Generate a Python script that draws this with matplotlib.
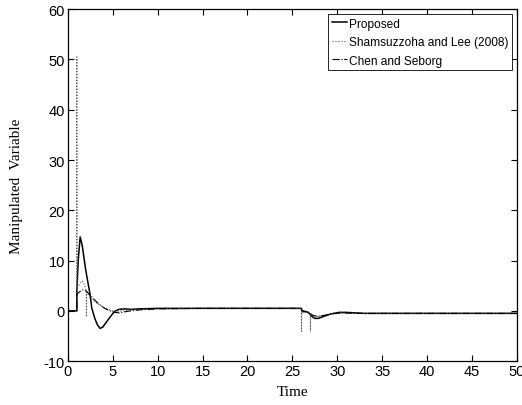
import matplotlib
matplotlib.use("Agg")
import matplotlib.pyplot as plt

# Proposed
t_prop = [0, 1, 1.0, 1.15, 1.37, 1.6, 1.8, 2.0, 2.2, 2.45, 2.67, 3.0, 3.3, 3.6, 3.9, 4.3, 4.8, 5.2, 5.7, 6.3, 7, 8, 10, 15, 20, 25, 26,
          26.1, 26.4, 26.8, 27.1, 27.5, 27.9, 28.5, 29.3, 30.2, 31, 33, 40, 50]
v_prop = [0, 0, 3.7, 10, 14.7, 13, 10.5, 8, 6, 3.5, 0.5, -1.5, -2.8, -3.5, -3.2, -2.2, -1.0, -0.1, 0.3, 0.4, 0.3, 0.4, 0.5, 0.5, 0.5, 0.5, 0.5,
          -0.2, -0.1, -0.3, -1.0, -1.5, -1.5, -1.1, -0.6, -0.3, -0.3, -0.5, -0.5, -0.5]

# Shamsuzzoha and Lee (2008)
t_sham = [0, 1, 1.0, 1.02, 1.2, 1.6, 1.9, 2.05, 2.07, 2.1, 2.3, 2.6, 3.0, 3.5, 4.0, 4.5, 5.0, 5.5, 6.0, 7, 8, 10, 15, 20, 25, 26,
          26.02, 26.05, 26.5, 27.0, 27.02, 27.05, 27.5, 28, 29, 30, 31, 33, 40, 50]
v_sham = [0, 0, 50.5, 4.5, 5.0, 6.0, 5.0, 4.0, -1.2, 3.8, 3.2, 2.5, 1.8, 1.2, 0.7, 0.3, 0.0, -0.2, 0.0, 0.2, 0.3, 0.4, 0.5, 0.5, 0.5, 0.5,
          -4.1, -0.2, -0.3, -0.6, -4.1, -0.8, -1.2, -1.1, -0.7, -0.4, -0.4, -0.5, -0.5, -0.5]

# Chen and Seborg
t_chen = [0, 1, 1.0, 1.3, 1.7, 2.0, 2.4, 2.8, 3.2, 3.7, 4.2, 4.7, 5.2, 5.7, 6.3, 7, 8, 10, 15, 20, 25, 26,
          26.1, 26.5, 27.0, 27.3, 27.8, 28.5, 29.5, 30.5, 32, 40, 50]
v_chen = [0, 0, 3.3, 3.8, 4.2, 4.0, 3.3, 2.5, 1.8, 1.0, 0.4, 0.0, -0.3, -0.4, -0.2, 0.0, 0.2, 0.4, 0.5, 0.5, 0.5, 0.5,
          0.1, -0.2, -0.5, -0.9, -1.1, -0.9, -0.6, -0.4, -0.5, -0.5, -0.5]

x_ticks = list(range(0, 51, 5))
y_ticks = list(range(-10, 61, 10))

fig = plt.figure(figsize=(5.22, 4.06), dpi=100)
ax = fig.add_axes([0.13, 0.108, 0.86, 0.867])

ax.plot(t_prop, v_prop, color='black', lw=1.1, ls='-', label='Proposed')
ax.plot(t_sham, v_sham, color='#555555', lw=0.8, ls=':', label='Shamsuzzoha and Lee (2008)')
ax.plot(t_chen, v_chen, color='black', lw=0.8, ls='-.', label='Chen and Seborg')

ax.set_xlim(0, 50)
ax.set_ylim(-10, 60)
ax.set_xticks(x_ticks)
ax.set_yticks(y_ticks)
tick_font = {'family': 'Liberation Sans', 'size': 10.5}
ax.set_xticklabels([str(v) for v in x_ticks], fontdict=tick_font)
ax.set_yticklabels([str(v) for v in y_ticks], fontdict=tick_font)
ax.tick_params(direction='in', length=4, width=0.8, top=True, right=True, pad=2)
for s in ax.spines.values():
    s.set_linewidth(0.9)

ax.set_xlabel('Time', family='Liberation Serif', fontsize=11, labelpad=5)
ax.set_ylabel('Manipulated  Variable', family='Liberation Serif', fontsize=11, labelpad=15)

leg = ax.legend(loc='upper right', prop={'family': 'Liberation Sans', 'size': 8.6},
                handlelength=1.3, handletextpad=0.15, borderpad=0.3, labelspacing=0.55,
                borderaxespad=0.4, fancybox=False, edgecolor='black', framealpha=1)
leg.get_frame().set_linewidth(0.6)

fig.savefig('out.png', dpi=100)
